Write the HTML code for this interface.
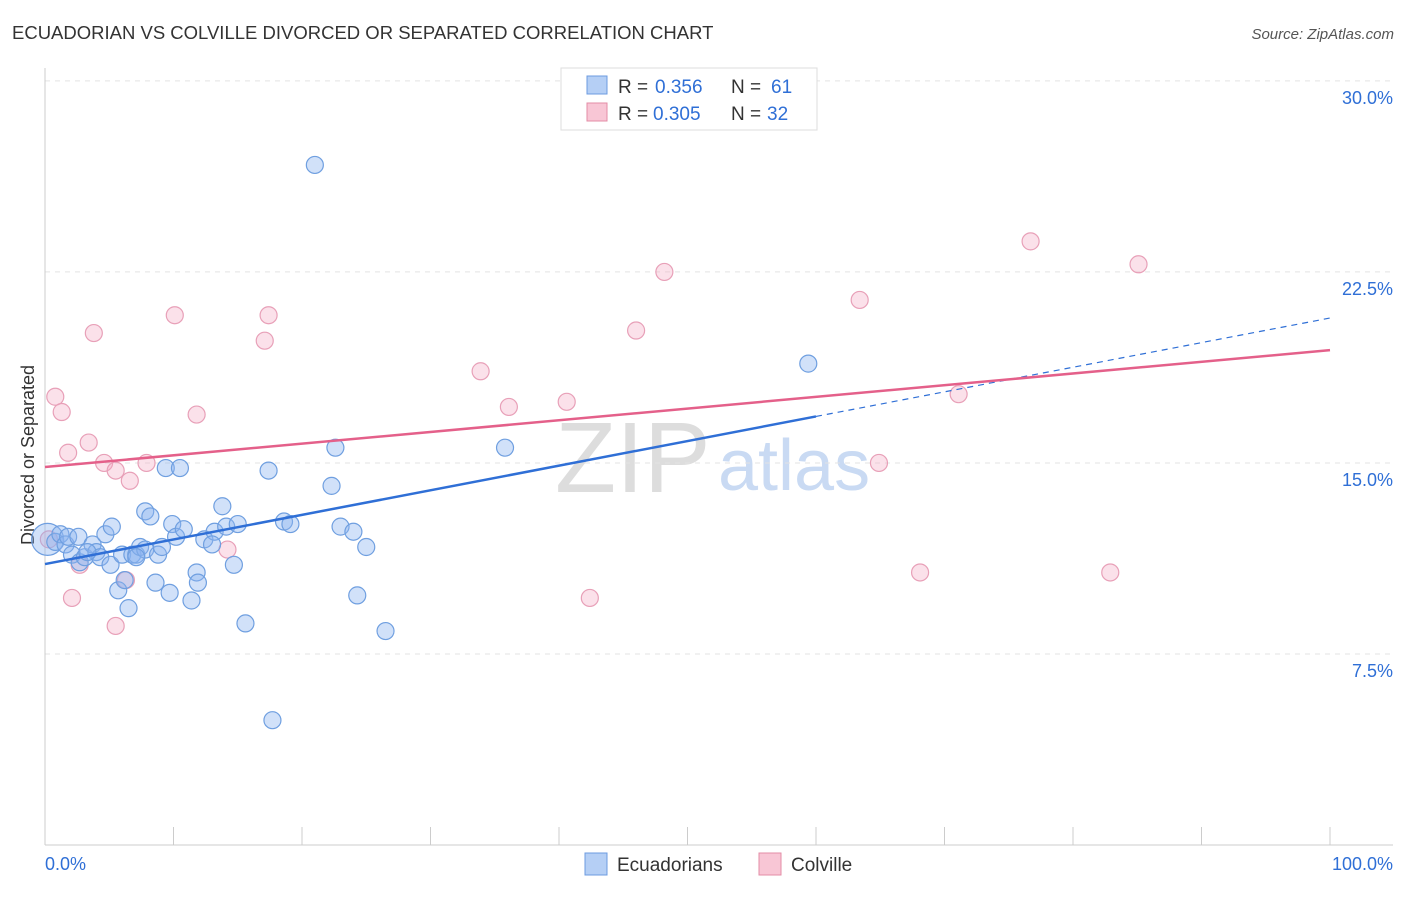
<!DOCTYPE html>
<html><head><meta charset="utf-8"><style>
body{margin:0;background:#fff;font-family:"Liberation Sans",sans-serif}
svg text{font-family:"Liberation Sans",sans-serif}
</style></head><body>
<svg id="c" width="1406" height="892">
<text x="12" y="39" font-size="18.5" fill="#333">ECUADORIAN VS COLVILLE DIVORCED OR SEPARATED CORRELATION CHART</text>
<text x="1394" y="39" font-size="15" fill="#555" text-anchor="end" font-style="italic">Source: ZipAtlas.com</text>
<text x="34" y="455" font-size="18" fill="#333" text-anchor="middle" transform="rotate(-90 34 455)">Divorced or Separated</text>
<text x="555" y="492" font-size="100" fill="#ddd" font-family="Liberation Serif">ZIP</text>
<text x="718" y="490" font-size="72" fill="#c9daf3">atlas</text>
<g id="grid"></g><g id="axes"></g><g id="pts"></g><g id="lines"></g>
<g>
<rect x="561" y="68" width="256" height="62" fill="#fff" stroke="#ddd"/>
<rect x="587" y="76" width="20" height="18" fill="#b5cff5" stroke="#6c9be0"/>
<text x="618" y="93" font-size="19" fill="#333">R =</text>
<text x="655" y="93" font-size="19" fill="#2f6fd6">0.356</text>
<text x="731" y="93" font-size="19" fill="#333">N =</text>
<text x="771" y="93" font-size="19" fill="#2f6fd6">61</text>
<rect x="587" y="103" width="20" height="18" fill="#f8c6d5" stroke="#e38ca6"/>
<text x="618" y="120" font-size="19" fill="#333">R =</text>
<text x="653" y="120" font-size="19" fill="#2f6fd6">0.305</text>
<text x="731" y="120" font-size="19" fill="#333">N =</text>
<text x="767" y="120" font-size="19" fill="#2f6fd6">32</text>
</g>
<g>
<rect x="585" y="853" width="22" height="22" fill="#b5cff5" stroke="#6c9be0"/>
<text x="617" y="871" font-size="19" fill="#333">Ecuadorians</text>
<rect x="759" y="853" width="22" height="22" fill="#f8c6d5" stroke="#e38ca6"/>
<text x="791" y="871" font-size="19" fill="#333">Colville</text>
</g>
<text x="45" y="870" font-size="18" fill="#2f6fd6">0.0%</text>
<text x="1393" y="870" font-size="18" fill="#2f6fd6" text-anchor="end">100.0%</text>
</svg>
<script>
const yTicks=[7.5,15,22.5,30];
const yTickLabels=["7.5%","15.0%","22.5%","30.0%"];
const ecuX=[0.2,0.8,1.2,1.6,1.8,2.1,2.6,2.7,3.1,3.7,4.0,4.3,4.7,5.1,5.2,5.7,6.0,6.2,6.5,6.8,7.1,7.4,7.8,7.8,8.2,8.6,8.8,9.1,9.4,9.7,9.9,10.2,10.5,10.8,11.4,11.8,11.9,12.4,13.2,13.8,14.1,14.7,15.0,15.6,17.4,17.7,18.6,19.1,21.0,22.3,22.6,23.0,24.0,24.3,25.0,26.5,35.8,59.4,7.1,3.3,13.0];
const ecuY=[12.0,11.9,12.2,11.8,12.1,11.4,12.1,11.1,11.3,11.8,11.5,11.3,12.2,11.0,12.5,10.0,11.4,10.4,9.3,11.4,11.4,11.7,11.6,13.1,12.9,10.3,11.4,11.7,14.8,9.9,12.6,12.1,14.8,12.4,9.6,10.7,10.3,12.0,12.3,13.3,12.5,11.0,12.6,8.7,14.7,4.9,12.7,12.6,26.7,14.1,15.6,12.5,12.3,9.8,11.7,8.4,15.6,18.9,11.3,11.5,11.8];
const colX=[0.8,1.3,1.8,2.1,2.7,3.4,3.8,4.6,5.5,5.5,6.3,6.6,7.9,10.1,11.8,14.2,17.1,17.4,33.9,36.1,40.6,42.4,46.0,48.2,63.4,64.9,68.1,71.1,76.7,82.9,85.1,0.3];
const colY=[17.6,17.0,15.4,9.7,11.0,15.8,20.1,15.0,14.7,8.6,10.4,14.3,15.0,20.8,16.9,11.6,19.8,20.8,18.6,17.2,17.4,9.7,20.2,22.5,21.4,15.0,10.7,17.7,23.7,10.7,22.8,12.0];
const ecuLine=[11.03,20.69];const ecuSolidEnd=60;
const colLine=[14.84,19.43];
const X=v=>45+v*12.85, Y=v=>845-v*25.47;
const NS="http://www.w3.org/2000/svg";
function mk(t,a,p){const e=document.createElementNS(NS,t);for(const k in a)e.setAttribute(k,a[k]);p.appendChild(e);return e;}
const grid=document.getElementById('grid'),axes=document.getElementById('axes'),pts=document.getElementById('pts'),lines=document.getElementById('lines');
yTicks.forEach((t,i)=>{
 const g=mk('line',{x1:45,x2:1393,y1:Y(t),y2:Y(t),stroke:'#e3e3e3','stroke-dasharray':'5,5'},grid);
 
 
 const l=mk('text',{x:1393,y:Y(t)+23,'font-size':18,fill:'#2f6fd6','text-anchor':'end'},axes);
 l.textContent=yTickLabels[i];
 
 
});
const ya=mk('line',{x1:45,x2:45,y1:68,y2:845,stroke:'#ccc'},axes);


const xa=mk('line',{x1:45,x2:1393,y1:845,y2:845,stroke:'#ccc'},axes);


for(let i=0;i<=10;i++){const t=mk('line',{x1:X(i*10),x2:X(i*10),y1:827,y2:845,stroke:'#ccc'},axes);
 
 }
colX.forEach((x,i)=>{const c=mk('circle',{cx:X(x),cy:Y(colY[i]),r:8.5,fill:'rgba(244,170,195,0.35)',stroke:'#e8a0b8','stroke-width':1.2},pts);
 
 });
ecuX.forEach((x,i)=>{const c=mk('circle',{cx:X(x),cy:Y(ecuY[i]),r:(i===0?16:8.5),fill:'rgba(140,180,240,0.4)',stroke:'#6f9fe0','stroke-width':1.2},pts);
 
 });
const ey=x=>ecuLine[0]+(ecuLine[1]-ecuLine[0])*x/100;
const l1=mk('line',{x1:X(0),y1:Y(ey(0)),x2:X(ecuSolidEnd),y2:Y(ey(ecuSolidEnd)),stroke:'#2f6fd6','stroke-width':2.5},lines);


const l2=mk('line',{x1:X(ecuSolidEnd),y1:Y(ey(ecuSolidEnd)),x2:X(100),y2:Y(ey(100)),stroke:'#2f6fd6','stroke-width':1.2,'stroke-dasharray':'6,5'},lines);


const l3=mk('line',{x1:X(0),y1:Y(colLine[0]),x2:X(100),y2:Y(colLine[1]),stroke:'#e4608a','stroke-width':2.5},lines);


</script>
</body></html>
